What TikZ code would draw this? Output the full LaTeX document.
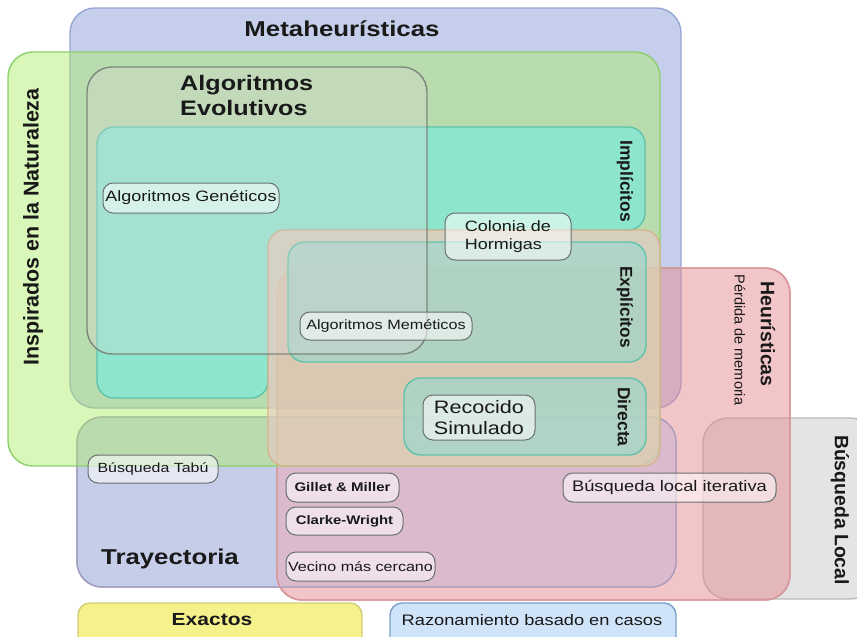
\documentclass[tikz,border=0pt]{standalone}
\usepackage{fontspec}
\setmainfont{Liberation Sans}
\newfontfamily\hf[FakeStretch=1.2]{Liberation Sans}
\newfontfamily\vf{Liberation Sans}
\definecolor{metaF}{RGB}{197,207,235}
\definecolor{metaD}{RGB}{150,165,212}
\definecolor{trayF}{RGB}{197,205,233}
\definecolor{trayD}{RGB}{150,160,205}
\definecolor{blF}{RGB}{228,228,228}
\definecolor{blD}{RGB}{185,185,185}
\definecolor{pinkF}{RGB}{229,141,147}
\definecolor{pinkD}{RGB}{215,150,155}
\definecolor{mauveF}{RGB}{220,186,205}
\definecolor{inspF}{RGB}{171,238,100}
\definecolor{inspD}{RGB}{140,208,110}
\definecolor{tealF}{RGB}{128,233,218}
\definecolor{tealD}{RGB}{95,195,170}
\definecolor{tanF}{RGB}{234,199,200}
\definecolor{tanD}{RGB}{215,180,140}
\definecolor{explF}{RGB}{148,217,207}
\definecolor{evoF}{RGB}{216,216,216}
\definecolor{evoD}{RGB}{125,135,125}
\definecolor{exF}{RGB}{245,242,140}
\definecolor{exD}{RGB}{212,205,120}
\definecolor{rzF}{RGB}{207,228,249}
\definecolor{rzD}{RGB}{125,160,200}
\definecolor{pillD}{RGB}{105,112,112}
\definecolor{txt}{RGB}{25,25,25}
\begin{document}
\begin{tikzpicture}[x=1pt,y=-1pt,
  reg/.style={line width=1.4pt, rounded corners=25pt},
  regs/.style={line width=1.4pt, rounded corners=17pt},
  pill/.style={draw=pillD, line width=1pt, rounded corners=10pt, fill=white,
    fill opacity=0.55, text opacity=1, inner sep=0pt, text=txt,
    font=\hf\fontsize{15}{18}\selectfont},
  htitle/.style={text=txt, inner sep=0pt, font=\hf\bfseries\fontsize{21.5}{25}\selectfont},
  vtitle/.style={text=txt, inner sep=0pt, font=\vf\bfseries\fontsize{#1}{#1}\selectfont}
]
\useasboundingbox (0,0) rectangle (857,637);
\clip (0,0) rectangle (857,637);

% regions
\draw[reg, draw=metaD, fill=metaF] (70,8) rectangle (681,408);
\draw[reg, draw=trayD, fill=trayF] (77,417) rectangle (676,587);
\draw[reg, draw=blD, fill=blF] (703,418) rectangle (875,599);
\draw[reg, draw=pinkD, fill=pinkF, fill opacity=0.5] (277,268) rectangle (790,600);
% lighter mauve where Heuristicas meets Trayectoria
\begin{scope}
  \path[rounded corners=25pt, clip] (77,417) rectangle (676,587);
  \fill[reg, mauveF] (277,268) rectangle (790,600);
\end{scope}
\draw[reg, draw=trayD!70!pinkD] (77,417) rectangle (676,587);
\draw[reg, draw=pinkD] (277,268) rectangle (790,600);
\draw[reg, draw=inspD, fill=inspF, fill opacity=0.45] (8,52) rectangle (660,466);
\draw[regs, draw=tealD, fill=tealF, fill opacity=0.75]
  (97,127) -- (645,127) -- (645,230) -- (268,230) -- (268,398) -- (97,398) -- cycle;
\draw[regs, draw=tanD, fill=tanF, fill opacity=0.6] (268,230) rectangle (660,466);
\draw[regs, draw=tealD, fill=explF, fill opacity=0.6] (288,242) rectangle (646,362);
\draw[regs, draw=tealD, fill=explF, fill opacity=0.6] (404,378) rectangle (646,455);
\draw[reg, draw=evoD, fill=evoF, fill opacity=0.3] (87,67) rectangle (427,354);
\draw[regs, rounded corners=12pt, draw=exD, fill=exF] (78,603) rectangle (362,660);
\draw[regs, rounded corners=12pt, draw=rzD, fill=rzF] (390,603) rectangle (676,660);

% region titles
\node[htitle] (meta) at (342,29) {Metaheurísticas};
\node[htitle, align=left, anchor=west, font=\hf\bfseries\fontsize{21}{25}\selectfont] (evo) at (180,95.5) {Algoritmos\\Evolutivos};
\node[vtitle=21.4, rotate=90] (insp) at (33,227) {Inspirados en la Naturaleza};
\node[vtitle=17.5, rotate=-90] (impl) at (625,181) {Implícitos};
\node[vtitle=17.2, rotate=-90] (expl) at (625,307) {Explícitos};
\node[vtitle=17.5, rotate=-90] (dir) at (624,417) {Directa};
\node[vtitle=19.5, rotate=-90] (heur) at (768,334) {Heurísticas};
\node[text=txt, inner sep=0pt, rotate=-90, font=\vf\fontsize{14.5}{15}\selectfont] (perd) at (740,340) {Pérdida de memoria};
\node[vtitle=19.4, rotate=-90] (bl) at (840,510) {Búsqueda Local};
\node[htitle, font=\hf\bfseries\fontsize{21.5}{25}\selectfont] (tray) at (170,559) {Trayectoria};
\node[htitle, font=\hf\bfseries\fontsize{17.5}{20}\selectfont] (exac) at (212,620) {Exactos};
\node[text=txt, inner sep=0pt, font=\hf\fontsize{15.2}{18}\selectfont] (razo) at (532,620) {Razonamiento basado en casos};

% pills
\node[pill, minimum width=176pt, minimum height=30pt] (ag) at (191,198) {Algoritmos Genéticos};
\node[pill, minimum width=126pt, minimum height=47pt, align=left] (ch) at (508,236.5) {Colonia de\\Hormigas};
\node[pill, minimum width=172pt, minimum height=28pt, font=\hf\fontsize{13.5}{16}\selectfont] (am) at (386,326) {Algoritmos Meméticos};
\node[pill, minimum width=112pt, minimum height=45pt, align=left, font=\hf\fontsize{18}{21}\selectfont] (rs) at (479,417.5) {Recocido\\Simulado};
\node[pill, minimum width=130pt, minimum height=28pt, font=\hf\fontsize{13.3}{16}\selectfont] (bt) at (153,469) {Búsqueda Tabú};
\node[pill, minimum width=113pt, minimum height=29pt, font=\hf\bfseries\fontsize{12.5}{15}\selectfont] (gm) at (342.5,487.5) {Gillet \& Miller};
\node[pill, minimum width=117pt, minimum height=28pt, font=\hf\bfseries\fontsize{12.4}{15}\selectfont] (cw) at (344.5,521) {Clarke-Wright};
\node[pill, minimum width=149pt, minimum height=29pt, font=\hf\fontsize{13.4}{16}\selectfont] (vc) at (360.5,566.5) {Vecino más cercano};
\node[pill, minimum width=213pt, minimum height=29pt, font=\hf\fontsize{15.3}{18}\selectfont] (bli) at (669.5,487.5) {Búsqueda local iterativa};
\end{tikzpicture}
\end{document}
